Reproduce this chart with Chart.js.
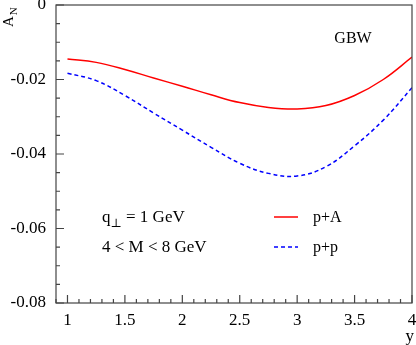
<!DOCTYPE html>
<html lang="en">

<head>
  <meta charset="UTF-8" />
  <title>A_N vs y</title>
  <style>
    html, body {
      margin: 0;
      padding: 0;
      background: #fff;
    }

    div.box {
      width: 416px;
      height: 345px;
    }
  </style>
  <script src="https://cdn.jsdelivr.net/npm/chart.js"></script>
</head>

<body>
  <div class="box">
    <canvas id="chart" width="416" height="345"></canvas>
  </div>
</body>

</html>
<script>
  // data
  const yPoints = [1.0, 1.25, 1.5, 1.75, 2.0, 2.25, 2.5, 2.75, 3.0, 3.25, 3.5, 3.75, 4.0]
  const pA = [-0.0145, -0.0154, -0.0173, -0.0196, -0.0218, -0.0241, -0.0262, -0.0275, -0.0279, -0.0270, -0.0243, -0.0200, -0.0140]
  const pp = [-0.0183, -0.0203, -0.0243, -0.0290, -0.0336, -0.0382, -0.0425, -0.0452, -0.0459, -0.0434, -0.0378, -0.0309, -0.0222]
  const xTicks = [1, 1.5, 2, 2.5, 3, 3.5, 4]
  const yTicks = [0, -0.02, -0.04, -0.06, -0.08]

  const serif = "'Liberation Serif', 'DejaVu Serif', serif"
  const axisColor = "#444"

  const toPts = (vals) => vals.map((v, i) => ({ x: yPoints[i], y: v }))

  // frame, inward ticks, and the texts
  const decor = {
    id: "decor",
    afterDraw(c) {
      const ctx = c.ctx
      const a = c.chartArea
      const xs = c.scales.x
      const ys = c.scales.y
      ctx.save()
      ctx.strokeStyle = axisColor
      ctx.lineWidth = 1.2
      ctx.strokeRect(a.left, a.top, a.right - a.left, a.bottom - a.top)

      ctx.beginPath()
      // x ticks: major 0.5, minor 0.1
      for (let k = 9; k <= 40; k++) {
        const px = xs.getPixelForValue(k / 10)
        const len = k % 5 === 0 ? 8 : 4
        ctx.moveTo(px, a.bottom)
        ctx.lineTo(px, a.bottom - len)
      }
      // y ticks: major 0.02, minor 0.005
      for (let k = 0; k <= 16; k++) {
        const py = ys.getPixelForValue(-k * 0.005)
        const len = k % 4 === 0 ? 8 : 4
        ctx.moveTo(a.left, py)
        ctx.lineTo(a.left + len, py)
      }
      ctx.stroke()

      ctx.fillStyle = "#000"
      ctx.textBaseline = "alphabetic"
      ctx.font = "17px " + serif
      ctx.textAlign = "right"
      ctx.fillText("y", 414, 341)

      ctx.textAlign = "center"
      ctx.font = "16px " + serif
      ctx.fillText("GBW", 353, 43)

      ctx.textAlign = "left"
      ctx.font = "17px " + serif
      ctx.fillText("q", 102, 222)
      let w = ctx.measureText("q").width
      ctx.font = "12px " + serif
      ctx.fillText("\u22A5", 102 + w, 227)
      let w2 = ctx.measureText("\u22A5").width
      ctx.font = "17px " + serif
      ctx.fillText(" = 1 GeV", 102 + w + w2, 222)
      ctx.fillText("4 < M < 8 GeV", 102, 252)

      // legend
      const ds = c.data.datasets
      const rows = [222, 252]
      ds.forEach((d, i) => {
        ctx.beginPath()
        ctx.strokeStyle = d.borderColor
        ctx.lineWidth = d.borderWidth
        ctx.setLineDash(d.borderDash || [])
        ctx.moveTo(274, rows[i] - 5)
        ctx.lineTo(298, rows[i] - 5)
        ctx.stroke()
        ctx.setLineDash([])
        ctx.fillStyle = "#000"
        ctx.font = "16px " + serif
        ctx.fillText(d.label, 313, rows[i])
      })

      // rotated y title A_N
      ctx.translate(13, 27)
      ctx.rotate(-Math.PI / 2)
      ctx.textAlign = "left"
      ctx.font = "15px " + serif
      ctx.fillText("A", 0, 0)
      const wa = ctx.measureText("A").width
      ctx.font = "11px " + serif
      ctx.fillText("N", wa + 1, 4)
      ctx.restore()
    }
  }

  const chart = new Chart(document.querySelector("#chart"), {
    type: "scatter",
    data: {
      datasets: [{
        label: "p+A",
        data: toPts(pA),
        showLine: true,
        borderColor: "#ff0000",
        borderWidth: 1.5,
        pointRadius: 0,
        tension: 0.4
      }, {
        label: "p+p",
        data: toPts(pp),
        showLine: true,
        borderColor: "#0000ff",
        borderWidth: 1.5,
        borderDash: [4, 3],
        pointRadius: 0,
        tension: 0.4
      }]
    },
    options: {
      responsive: false,
      animation: false,
      layout: { padding: { top: 5, right: 4, left: 0, bottom: 0 } },
      plugins: {
        legend: { display: false },
        tooltip: { enabled: false }
      },
      scales: {
        x: {
          type: "linear",
          min: 0.9,
          max: 4,
          grid: { display: false, drawTicks: false },
          border: { display: false },
          afterBuildTicks: (s) => { s.ticks = xTicks.map(v => ({ value: v })) },
          afterFit: (s) => {
            s.height = 42
            s.paddingLeft = 0
            s.paddingRight = 0
          },
          ticks: {
            color: "#000",
            padding: 7,
            maxRotation: 0,
            autoSkip: false,
            font: { family: serif, size: 17 },
            callback: (v) => String(v)
          }
        },
        y: {
          min: -0.08,
          max: 0,
          grid: { display: false, drawTicks: false },
          border: { display: false },
          afterBuildTicks: (s) => { s.ticks = yTicks.map(v => ({ value: v })) },
          afterFit: (s) => {
            s.width = 56
            s.paddingTop = 0
            s.paddingBottom = 0
          },
          ticks: {
            color: "#000",
            padding: 10,
            font: { family: serif, size: 17 },
            callback: (v) => v === 0 ? "0" : v.toFixed(2)
          }
        }
      }
    },
    plugins: [decor]
  })
</script>
